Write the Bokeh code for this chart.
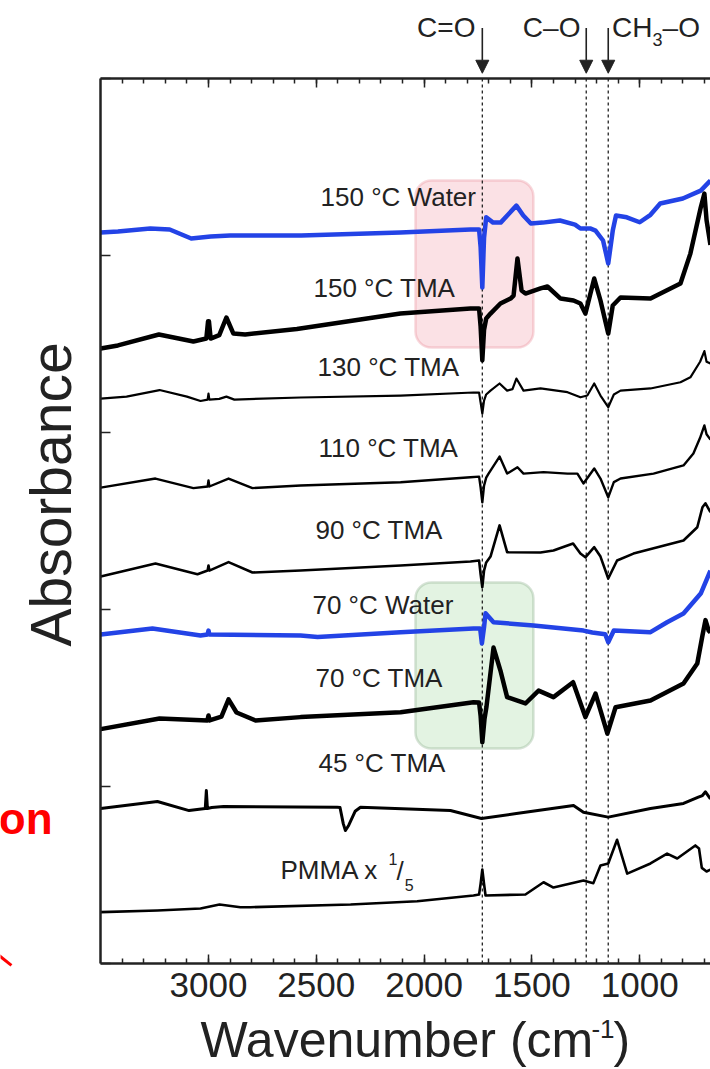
from bokeh.plotting import figure
from bokeh.models import (Range1d, FixedTicker, LinearAxis, BoxAnnotation,
                          Label, Arrow, NormalHead)
from bokeh.embed import file_html
from bokeh.resources import INLINE

# ---------------- data (wavenumber cm-1, absorbance a.u. with stacking offsets) ----
wn_w150 = [3500, 3420, 3270, 3180, 3080, 2990, 2900, 2570, 2110, 1785, 1745, 1738, 1730, 1722, 1712,
           1680, 1645, 1610, 1572, 1540, 1505, 1450, 1370, 1300, 1275, 1230, 1205, 1170, 1146, 1125,
           1110, 1060, 1000, 950, 905, 800, 717, 672]
ab_w150 = [4.130, 4.136, 4.153, 4.147, 4.096, 4.107, 4.113, 4.113, 4.130, 4.147, 4.147, 4.05, 3.819,
           4.10, 4.216, 4.186, 4.186, 4.232, 4.282, 4.226, 4.181, 4.186, 4.198, 4.175, 4.153, 4.153,
           4.141, 4.085, 3.955, 4.141, 4.226, 4.216, 4.188, 4.230, 4.294, 4.322, 4.367, 4.424]

wn_t150 = [3500, 3420, 3230, 3070, 3010, 3002, 2998, 2990, 2950, 2917, 2885, 2830, 2590, 2110, 1785,
           1745, 1738, 1730, 1722, 1712, 1692, 1646, 1599, 1585, 1567, 1548, 1530, 1460, 1428, 1367,
           1307, 1275, 1252, 1211, 1182, 1146, 1125, 1089, 950, 811, 765, 717, 700, 690, 672]
ab_t150 = [3.475, 3.492, 3.554, 3.514, 3.531, 3.629, 3.629, 3.531, 3.55, 3.650, 3.56, 3.554, 3.585,
           3.672, 3.701, 3.701, 3.60, 3.407, 3.58, 3.644, 3.672, 3.729, 3.757, 3.774, 3.983, 3.802,
           3.785, 3.814, 3.825, 3.757, 3.746, 3.729, 3.672, 3.870, 3.746, 3.559, 3.718, 3.763, 3.757,
           3.842, 4.011, 4.271, 4.350, 4.20, 4.06]

wn_t130 = [3500, 3380, 3227, 3100, 3037, 3004, 3000, 2996, 2950, 2917, 2880, 2573, 2109, 1771, 1745,
           1738, 1730, 1722, 1712, 1692, 1650, 1615, 1590, 1572, 1539, 1460, 1335, 1275, 1243, 1211,
           1182, 1146, 1120, 1089, 950, 811, 765, 720, 700, 690, 672]
ab_t130 = [3.192, 3.203, 3.240, 3.203, 3.178, 3.186, 3.220, 3.186, 3.19, 3.203, 3.186, 3.198, 3.209,
           3.226, 3.226, 3.17, 3.107, 3.18, 3.215, 3.237, 3.277, 3.237, 3.245, 3.305, 3.237, 3.249,
           3.228, 3.199, 3.209, 3.277, 3.209, 3.143, 3.215, 3.237, 3.249, 3.284, 3.312, 3.40, 3.46,
           3.40, 3.39]

wn_t110 = [3500, 3246, 3070, 3004, 3000, 2996, 2907, 2796, 2573, 2109, 1785, 1745, 1738, 1730, 1722,
           1712, 1701, 1650, 1615, 1567, 1539, 1446, 1335, 1289, 1261, 1211, 1182, 1146, 1120, 1089,
           936, 797, 751, 720, 700, 690, 672]
ab_t110 = [2.689, 2.740, 2.686, 2.695, 2.729, 2.695, 2.740, 2.686, 2.701, 2.719, 2.747, 2.751, 2.69,
           2.606, 2.70, 2.745, 2.768, 2.864, 2.768, 2.804, 2.768, 2.776, 2.768, 2.768, 2.712, 2.797,
           2.740, 2.634, 2.72, 2.740, 2.768, 2.814, 2.881, 2.97, 3.04, 2.99, 2.96]

wn_t90 = [3500, 3246, 3051, 3004, 3000, 2996, 2907, 2796, 2573, 2109, 1785, 1745, 1738, 1730, 1722,
          1712, 1692, 1650, 1615, 1460, 1400, 1309, 1275, 1252, 1211, 1182, 1146, 1105, 1029, 797,
          733, 709, 695, 672]
ab_t90 = [2.186, 2.260, 2.199, 2.220, 2.249, 2.220, 2.268, 2.209, 2.220, 2.249, 2.271, 2.277, 2.20,
          2.126, 2.22, 2.266, 2.299, 2.475, 2.324, 2.322, 2.333, 2.373, 2.316, 2.295, 2.352, 2.299,
          2.175, 2.277, 2.316, 2.390, 2.465, 2.578, 2.60, 2.55]

wn_w70 = [3500, 3260, 3037, 3004, 3000, 2996, 2573, 2494, 2109, 1771, 1740, 1732, 1722, 1715, 1678,
          1493, 1261, 1220, 1160, 1146, 1120, 950, 873, 797, 717, 672]
ab_w70 = [1.859, 1.893, 1.853, 1.859, 1.881, 1.859, 1.853, 1.845, 1.872, 1.893, 1.893, 1.808, 1.90,
          1.979, 1.928, 1.910, 1.881, 1.870, 1.86, 1.815, 1.881, 1.872, 1.928, 1.977, 2.090, 2.220]

wn_t70 = [3500, 3227, 3005, 3000, 2995, 2940, 2907, 2870, 2782, 2573, 2109, 1771, 1745, 1738, 1730,
          1720, 1711, 1678, 1646, 1615, 1530, 1469, 1400, 1309, 1252, 1205, 1150, 1112, 950, 797,
          733, 709, 695, 680, 672]
ab_t70 = [1.324, 1.384, 1.373, 1.401, 1.373, 1.395, 1.492, 1.418, 1.373, 1.392, 1.420, 1.476, 1.475,
          1.40, 1.250, 1.38, 1.448, 1.785, 1.655, 1.505, 1.469, 1.542, 1.505, 1.589, 1.392, 1.525,
          1.299, 1.448, 1.486, 1.582, 1.695, 1.853, 1.940, 1.88, 1.87]

wn_t45 = [3500, 3237, 3090, 3015, 3010, 3005, 2985, 2930, 2403, 2390, 2375, 2365, 2350, 2335, 2320,
          2295, 1878, 1734, 1572, 1307, 1261, 1146, 950, 797, 728, 709, 695, 672]
ab_t45 = [0.876, 0.915, 0.864, 0.876, 0.977, 0.876, 0.881, 0.887, 0.883, 0.881, 0.79, 0.751, 0.78,
          0.82, 0.86, 0.883, 0.864, 0.819, 0.847, 0.893, 0.855, 0.827, 0.876, 0.904, 0.940, 0.949,
          0.97, 0.93]

wn_pmma = [3500, 3237, 3037, 2949, 2852, 2805, 2341, 2032, 1771, 1745, 1738, 1730, 1722, 1715, 1530,
           1446, 1400, 1261, 1215, 1182, 1146, 1105, 1058, 950, 873, 826, 742, 725, 712, 690, 672]
ab_pmma = [0.290, 0.299, 0.311, 0.333, 0.318, 0.318, 0.333, 0.352, 0.384, 0.390, 0.45, 0.531, 0.45,
           0.384, 0.390, 0.459, 0.429, 0.469, 0.454, 0.554, 0.565, 0.699, 0.508, 0.565, 0.621, 0.593,
           0.667, 0.65, 0.54, 0.52, 0.53]

x_major = [3000, 2500, 2000, 1500, 1000]
x_minor = list(range(3400, 600, -100))
y_ticks = [0, 1, 2, 3, 4, 5]
x_span = (3500, 668)
y_span = (0, 5)
band_lines = [1730, 1248, 1146]

# cut-off red stroke of the slide, bottom-left
slide_stroke_x = [3990, 3914]
slide_stroke_y = [0.063, -0.011]

BLUE = "#2343e6"
INK = "#222222"
FONT = "Liberation Sans"

X0, X1 = 3964.7, 671.7
Y0, Y1 = -0.599, 5.441
PX_PER_Y = 1069 / (Y1 - Y0)
PX_PER_X = 710 / (X0 - X1)

# frame covers the whole canvas; axes are pinned at the spectral window edges
p = figure(width=710, height=1069, x_range=Range1d(X0, X1), y_range=Range1d(Y0, Y1),
           output_backend="svg", toolbar_location=None,
           min_border=0, min_border_left=0, min_border_right=0, min_border_top=0,
           min_border_bottom=0)
p.outline_line_color = None
p.grid.visible = False
p.background_fill_color = "white"


def text(x, y, s, size, align="left", angle=0.0, color=INK, style="normal"):
    # place by alphabetic baseline (compensate the label box offset)
    shift = 0.34 * size
    if angle == 0.0:
        y = y + shift / PX_PER_Y
    else:
        x = x + shift / PX_PER_X
    p.add_layout(Label(x=x, y=y, text=s, text_font=FONT, text_font_size=f"{size}px",
                       text_color=color, text_align=align, angle=angle,
                       text_font_style=style, text_baseline="alphabetic"))


# bottom axis
xa = p.xaxis[0]
xa.fixed_location = y_span[0]
xa.bounds = x_span
xa.ticker = FixedTicker(ticks=x_major, minor_ticks=x_minor)
xa.major_tick_in = 9
xa.major_tick_out = 0
xa.minor_tick_in = 5
xa.minor_tick_out = 0
xa.axis_line_width = 2.5
xa.major_tick_line_width = 1.5
xa.minor_tick_line_width = 1.5
xa.axis_line_color = INK
xa.major_tick_line_color = INK
xa.minor_tick_line_color = INK
xa.major_label_text_font = FONT
xa.major_label_text_font_size = "35px"
xa.major_label_text_color = INK
xa.major_label_standoff = 10

# left axis
ya = p.yaxis[0]
ya.fixed_location = x_span[0]
ya.bounds = y_span
ya.ticker = FixedTicker(ticks=y_ticks)
ya.major_tick_in = 10
ya.major_tick_out = 0
ya.minor_tick_line_color = None
ya.axis_line_width = 2.5
ya.axis_line_color = INK
ya.major_tick_line_width = 1.5
ya.major_tick_line_color = INK
ya.major_label_text_color = None
ya.major_label_text_font_size = "1px"

# top axis
top = LinearAxis(ticker=FixedTicker(ticks=x_major, minor_ticks=x_minor),
                 fixed_location=y_span[1], bounds=x_span,
                 major_tick_in=9, major_tick_out=0, minor_tick_in=5, minor_tick_out=0,
                 axis_line_width=2.5, axis_line_color=INK,
                 major_tick_line_color=INK, minor_tick_line_color=INK,
                 major_tick_line_width=1.5, minor_tick_line_width=1.5,
                 major_label_text_color=None, major_label_text_font_size="1px")
p.add_layout(top, "above")

# highlight boxes
p.add_layout(BoxAnnotation(left=2040, right=1493, top=4.424, bottom=3.480, level="underlay",
                           fill_color="#fbe1e5", fill_alpha=1.0, line_color="#e8808f",
                           line_width=2.5, border_radius=16))
p.add_layout(BoxAnnotation(left=2040, right=1493, top=2.153, bottom=1.215, level="underlay",
                           fill_color="#e3f3e2", fill_alpha=1.0, line_color="#7ba27a",
                           line_width=2.5, border_radius=16))

# dashed band markers between the two spines
p.segment(x0=band_lines, y0=[y_span[0]] * 3, x1=band_lines, y1=[y_span[1]] * 3,
          line_color=INK, line_width=1.3, line_dash="3 3")

# spectra
series = [
    (wn_w150, ab_w150, BLUE, 4.5),
    (wn_t150, ab_t150, "black", 4.5),
    (wn_t130, ab_t130, "black", 2.2),
    (wn_t110, ab_t110, "black", 2.4),
    (wn_t90, ab_t90, "black", 2.6),
    (wn_w70, ab_w70, BLUE, 4.5),
    (wn_t70, ab_t70, "black", 4.5),
    (wn_t45, ab_t45, "black", 3.0),
    (wn_pmma, ab_pmma, "black", 2.6),
]
for xs, ys, col, lw in series:
    xs_c = [x for x in xs if x >= x_span[1]]
    p.line(xs_c, ys[:len(xs_c)], line_color=col, line_width=lw, line_join="round")

# trace labels
trace_labels = [
    ("150 °C Water", 2480, 4.278),
    ("150 °C TMA", 2513, 3.764),
    ("130 °C TMA", 2494, 3.322),
    ("110 °C TMA", 2490, 2.860),
    ("90 °C TMA", 2504, 2.401),
    ("70 °C Water", 2518, 1.977),
    ("70 °C TMA", 2504, 1.561),
    ("45 °C TMA", 2490, 1.081),
]
for txt, lx, ly in trace_labels:
    text(lx, ly, txt, 26)

text(2666, 0.480, "PMMA x", 26)
text(2165, 0.562, "1", 16)
text(2128, 0.472, "/", 26)
text(2090, 0.410, "5", 16)

# band annotations above the frame
for bx in band_lines:
    p.add_layout(Arrow(x_start=bx, y_start=5.285, x_end=bx, y_end=5.030,
                       line_color=INK, line_width=1.6,
                       end=NormalHead(size=13, fill_color=INK, line_color=INK)))
text(1762, 5.232, "C=O", 28, align="right")
text(1275, 5.232, "C–O", 28, align="right")
text(1128, 5.232, "CH", 28)
text(941, 5.185, "3", 18)
text(894, 5.232, "–O", 28)

# axis titles
text(3037, -0.531, "Wavenumber (cm", 50)
text(1224, -0.420, "-1", 26)
text(1122, -0.531, ")", 50)
text(3640, 2.650, "Absorbance", 57, align="center", angle=1.5708)

# cropped slide content at the left
text(3723, 0.734, "on", 44, align="right", color="#ff0000", style="bold")
p.line(slide_stroke_x, slide_stroke_y, line_color="#ff0000", line_width=3)

open("out.html", "w").write(file_html(p, INLINE))
